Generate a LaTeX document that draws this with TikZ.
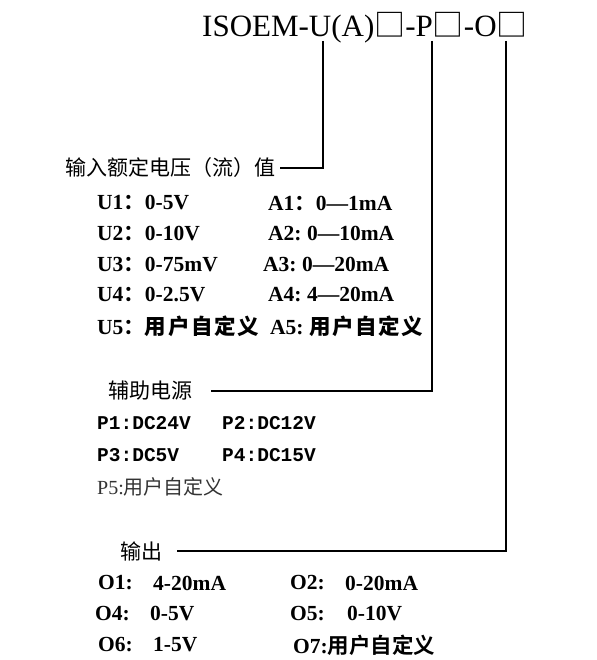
\documentclass[tikz,border=0pt]{standalone}
\usepackage{fontspec}
\setmainfont{Liberation Serif}
\newfontfamily\cjk[UprightFont=*,BoldFont=* Bold]{Noto Sans CJK SC}
\newfontfamily\cjksp[UprightFont=* Bold,LetterSpace=8]{Noto Sans CJK SC}
\newfontfamily\monob{Liberation Mono Bold}
\tikzset{
  lbl/.style={anchor=west,inner sep=0pt,font=\fontsize{21}{21}\selectfont\cjk},
  row/.style={anchor=west,inner sep=0pt,font=\fontsize{21.5}{21}\selectfont\bfseries},
  prow/.style={anchor=west,inner sep=0pt,font=\fontsize{19.5}{20}\selectfont\monob},
  conn/.style={draw=black,line width=1.3pt},
}
\begin{document}
\begin{tikzpicture}[x=1pt,y=-1pt]
\useasboundingbox (0,0) rectangle (596,660);
% title
\node[anchor=base west,inner sep=0pt,font=\fontsize{31}{31}\selectfont] (title) at (202,37)
  {ISOEM-U(A){\cjk □}-P{\cjk □}-O{\cjk □}};
\coordinate (uTop) at (323,41);
\coordinate (pTop) at (432,41);
\coordinate (oTop) at (506,41);
% input
\node[lbl] (inLbl) at (65,168) {输入额定电压（流）值};
\node[row] (u1) at (97,203) {U1{\cjk\bfseries：}0-5V};
\node[row] (a1) at (268,203) {A1{\cjk\bfseries：}0—1mA};
\node[row] (u2) at (97,234) {U2{\cjk\bfseries：}0-10V};
\node[row] (a2) at (268,234) {A2:\ 0—10mA};
\node[row] (u3) at (97,265) {U3{\cjk\bfseries：}0-75mV};
\node[row] (a3) at (263,265) {A3:\ 0—20mA};
\node[row] (u4) at (97,295) {U4{\cjk\bfseries：}0-2.5V};
\node[row] (a4) at (268,295) {A4:\ 4—20mA};
\node[row] (u5) at (97,326) {U5{\cjk\bfseries：}{\cjksp 用户自定义}};
\node[row] (a5) at (270,326) {A5:\ {\cjksp 用户自定义}};
% aux power
\node[lbl] (pLbl) at (108,391) {辅助电源};
\node[prow] (p1) at (97,423) {P1:DC24V};
\node[prow] (p2) at (222,423) {P2:DC12V};
\node[prow] (p3) at (97,455) {P3:DC5V};
\node[prow] (p4) at (222,455) {P4:DC15V};
\node[anchor=west,inner sep=0pt,text=black!80,font=\fontsize{20}{20}\selectfont] (p5) at (97,487) {P5:{\cjk 用户自定义}};
% output
\node[lbl] (oLbl) at (120,551) {输出};
\node[row] (o1) at (98,583) {O1:};
\node[row] (o1v) at (153,583) {4-20mA};
\node[row] (o2) at (290,583) {O2:};
\node[row] (o2v) at (345,583) {0-20mA};
\node[row] (o4) at (95,614) {O4:};
\node[row] (o4v) at (150,614) {0-5V};
\node[row] (o5) at (290,614) {O5:};
\node[row] (o5v) at (347,614) {0-10V};
\node[row] (o6) at (98,645) {O6:};
\node[row] (o6v) at (153,645) {1-5V};
\node[row] (o7) at (293,645) {O7:{\cjk\bfseries 用户自定义}};
% connectors
\draw[conn] (uTop) |- ([xshift=5pt]inLbl.east);
\draw[conn] (pTop) |- ([xshift=19pt]pLbl.east);
\draw[conn] (oTop) |- ([xshift=15pt]oLbl.east);
\end{tikzpicture}
\end{document}
